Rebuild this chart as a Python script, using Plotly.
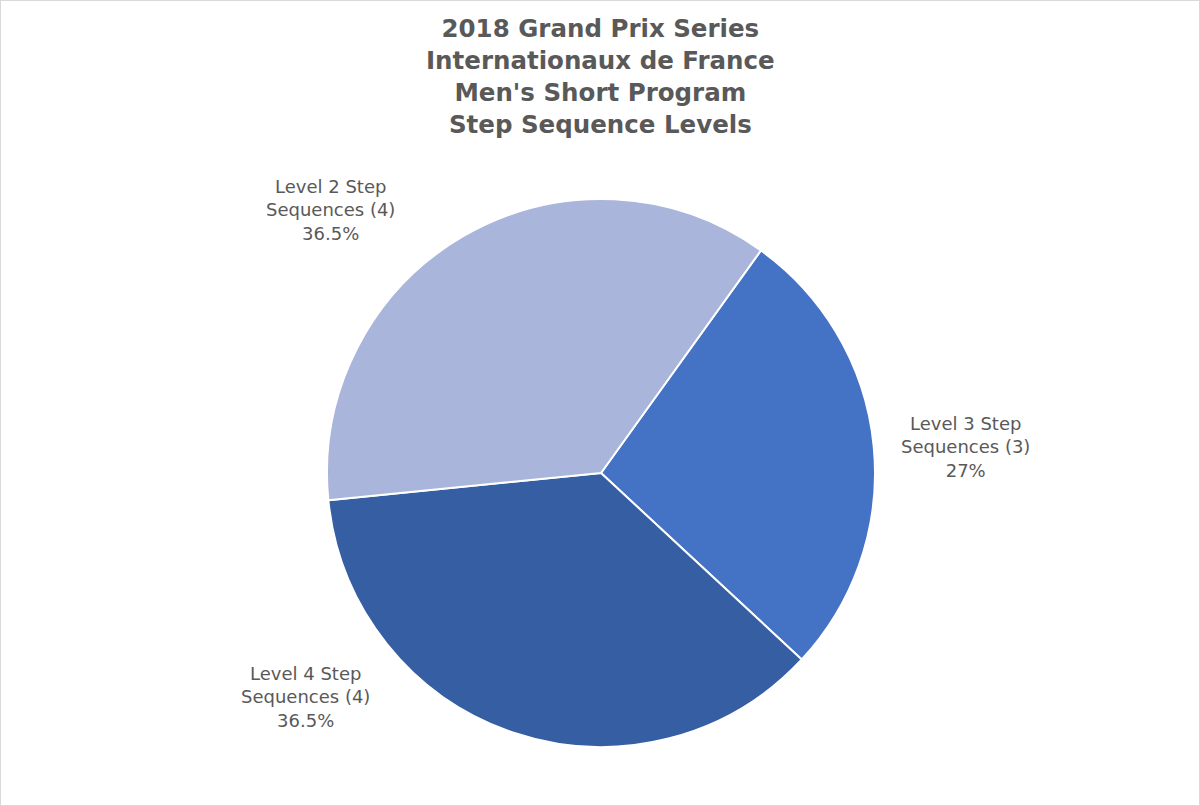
import plotly.graph_objects as go

# slices in clockwise order, starting at the Level 3 wedge
labels = ['Level 3 Step Sequences', 'Level 4 Step Sequences', 'Level 2 Step Sequences']
counts = [3, 4, 4]
shares = [27, 36.5, 36.5]
colors = ['#4472C4', '#365FA3', '#A9B5DB']
title_lines = ['2018 Grand Prix Series', 'Internationaux de France',
               "Men's Short Program", 'Step Sequence Levels']

W, H = 1200, 806
cx, cy, r = 601, 473, 274
# where the data labels sit (pixel centres, as in the original chart)
label_pos = [(965, 447), (305, 697), (330, 210)]

fig = go.Figure(go.Pie(
    labels=labels,
    values=shares,
    textinfo='none',
    sort=False,
    direction='clockwise',
    rotation=35.7,
    marker=dict(colors=colors, line=dict(color='white', width=2)),
    hoverinfo='label+percent',
    domain=dict(x=[(cx - r) / W, (cx + r) / W], y=[(H - cy - r) / H, (H - cy + r) / H]),
))

for l, c, s, (px_, py_) in zip(labels, counts, shares, label_pos):
    head, tail = l.rsplit(' ', 1)
    fig.add_annotation(
        text=f'{head}<br>{tail} ({c})<br>{s:g}%',
        xref='paper', yref='paper', x=px_ / W, y=1 - py_ / H,
        xanchor='center', yanchor='middle', showarrow=False,
        font=dict(family='DejaVu Sans', size=18, color='#595959'),
    )

fig.add_annotation(
    text='<b>' + '<br>'.join(title_lines) + '</b>',
    xref='paper', yref='paper', x=0.5, y=1 - 77 / H,
    xanchor='center', yanchor='middle', showarrow=False,
    font=dict(family='DejaVu Sans', size=24.5, color='#595959'),
)

fig.update_layout(
    width=W, height=H,
    margin=dict(l=0, r=0, t=0, b=0),
    paper_bgcolor='white',
    showlegend=False,
    shapes=[dict(type='rect', xref='paper', yref='paper', x0=0, x1=1, y0=0, y1=1,
                 line=dict(color='#D9D9D9', width=2), fillcolor='rgba(0,0,0,0)')],
)

fig.write_html('out.html', config={'displayModeBar': False},
               post_script="document.body.style.margin='0';")
